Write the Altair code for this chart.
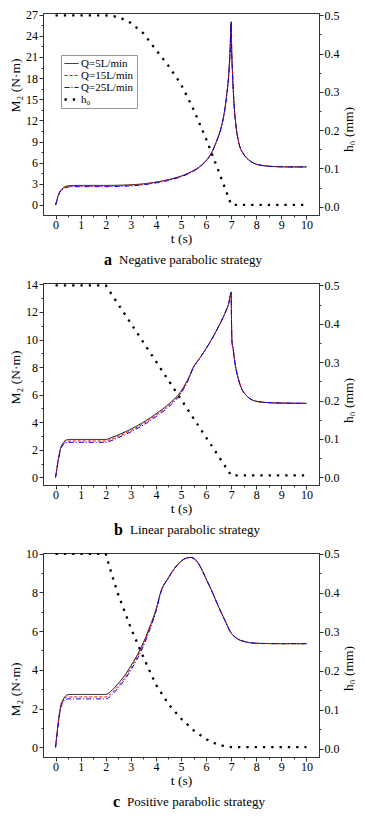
import altair as alt
import pandas as pd

FONT = "Liberation Serif"

SERIES = ["Q=5L/min", "Q=15L/min", "Q=25L/min", "h₀"]
COLORS = ["#000000", "#ff0000", "#0000ff", "#000000"]
DASHES = [[1, 0], [3, 2], [5, 2, 1, 2], [2.3, 6.0]]

X_TICKS = [0, 0.5, 1, 1.5, 2, 2.5, 3, 3.5, 4, 4.5, 5, 5.5, 6, 6.5, 7, 7.5, 8, 8.5, 9, 9.5, 10]
H_TICKS = [0, 0.05, 0.1, 0.15, 0.2, 0.25, 0.3, 0.35, 0.4, 0.45, 0.5]
YA_TICKS = [0, 1.5, 3, 4.5, 6, 7.5, 9, 10.5, 12, 13.5, 15, 16.5, 18, 19.5, 21, 22.5, 24, 25.5, 27]
YB_TICKS = [0, 1, 2, 3, 4, 5, 6, 7, 8, 9, 10, 11, 12, 13, 14]
YC_TICKS = [0, 1, 2, 3, 4, 5, 6, 7, 8, 9, 10]

# ---- panel a: negative parabolic strategy ----
TA = [0, 0.05, 0.1, 0.15, 0.2, 0.3, 0.4, 0.5, 0.7, 1.0, 1.5, 2.0, 2.5, 3.0, 3.5, 4.0, 4.5, 5.0, 5.5, 5.8,
      6.0, 6.2, 6.4, 6.6, 6.7, 6.8, 6.9, 6.95, 7.0, 7.02, 7.05, 7.1, 7.2, 7.3, 7.5, 7.7, 8.0, 8.5, 9.0, 9.5, 10.0]
A_Q5 = [0, 0.6, 1.3, 1.75, 2.05, 2.4, 2.62, 2.72, 2.77, 2.78, 2.78, 2.78, 2.8, 2.87, 3.0, 3.25, 3.6, 4.1, 4.9, 5.6,
        6.3, 7.3, 8.9, 11.0, 12.6, 15.0, 18.5, 21.5, 26.0, 22.0, 19.0, 15.2, 11.0, 8.9, 7.2, 6.4, 5.8, 5.5, 5.42, 5.4, 5.4]
A_Q15 = [0, 0.58, 1.25, 1.7, 2.0, 2.32, 2.52, 2.62, 2.67, 2.68, 2.68, 2.68, 2.71, 2.79, 2.93, 3.19, 3.54, 4.05, 4.85, 5.57,
         6.28, 7.28, 8.88, 10.98, 12.58, 14.95, 18.4, 21.3, 25.6, 21.8, 18.9, 15.1, 10.95, 8.88, 7.2, 6.4, 5.8, 5.5, 5.42, 5.4, 5.4]
A_Q25 = [0, 0.55, 1.2, 1.65, 1.95, 2.25, 2.45, 2.55, 2.6, 2.6, 2.6, 2.6, 2.63, 2.71, 2.86, 3.13, 3.49, 4.0, 4.8, 5.53,
         6.25, 7.25, 8.85, 10.95, 12.55, 14.9, 18.3, 21.2, 25.8, 21.9, 18.9, 15.1, 10.95, 8.88, 7.2, 6.4, 5.8, 5.5, 5.42, 5.4, 5.4]
HA_T = [0, 2.0, 2.5, 3.0, 3.5, 4.0, 4.5, 5.0, 5.5, 6.0, 6.5, 7.0, 10.0]
HA = [0.5, 0.5, 0.496, 0.48, 0.453, 0.41, 0.368, 0.32, 0.254, 0.177, 0.093, 0.005, 0.005]

# ---- panel b: linear parabolic strategy ----
TB = [0, 0.05, 0.1, 0.15, 0.2, 0.3, 0.4, 0.5, 0.7, 1.0, 1.5, 2.0, 2.25, 2.5, 3.0, 3.5, 4.0, 4.5, 5.0, 5.3,
      5.5, 5.75, 6.0, 6.25, 6.5, 6.75, 6.9, 7.0, 7.01, 7.03, 7.08, 7.15, 7.25, 7.4, 7.6, 7.8, 8.0, 8.5, 9.0, 10.0]
B_Q5 = [0, 0.6, 1.2, 1.7, 2.1, 2.5, 2.68, 2.74, 2.75, 2.75, 2.75, 2.75, 2.9, 3.08, 3.5, 4.0, 4.6, 5.3, 6.25, 7.2,
        8.0, 8.65, 9.35, 10.1, 10.95, 11.9, 12.6, 13.4, 11.8, 9.9, 9.3, 8.3, 7.4, 6.5, 5.95, 5.65, 5.52, 5.42, 5.39, 5.37]
B_Q15 = [0, 0.58, 1.15, 1.65, 2.05, 2.42, 2.58, 2.63, 2.64, 2.64, 2.64, 2.64, 2.78, 2.97, 3.4, 3.9, 4.5, 5.2, 6.17, 7.15,
         8.0, 8.65, 9.35, 10.1, 10.95, 11.9, 12.6, 13.3, 11.8, 9.9, 9.3, 8.3, 7.4, 6.5, 5.95, 5.65, 5.52, 5.42, 5.39, 5.37]
B_Q25 = [0, 0.55, 1.1, 1.6, 2.0, 2.35, 2.5, 2.54, 2.54, 2.54, 2.54, 2.54, 2.68, 2.88, 3.3, 3.8, 4.4, 5.1, 6.1, 7.1,
         8.0, 8.65, 9.35, 10.1, 10.95, 11.9, 12.6, 13.45, 11.8, 9.9, 9.3, 8.3, 7.4, 6.5, 5.95, 5.65, 5.52, 5.42, 5.39, 5.37]
HB_T = [0, 2.0, 7.0, 10.0]
HB = [0.5, 0.5, 0.005, 0.005]

# ---- panel c: positive parabolic strategy ----
TC = [0, 0.05, 0.1, 0.15, 0.2, 0.3, 0.4, 0.5, 0.7, 1.0, 1.5, 2.0, 2.25, 2.5, 2.75, 3.0, 3.25, 3.5, 3.75, 4.0,
      4.2, 4.5, 4.75, 5.0, 5.25, 5.4, 5.6, 5.8, 6.0, 6.25, 6.5, 6.75, 7.0, 7.25, 7.5, 8.0, 9.0, 10.0]
C_Q5 = [0, 0.6, 1.2, 1.7, 2.1, 2.45, 2.65, 2.72, 2.73, 2.73, 2.73, 2.73, 2.95, 3.3, 3.7, 4.2, 4.75, 5.4, 6.2, 7.1,
        8.05, 8.75, 9.25, 9.6, 9.78, 9.8, 9.65, 9.25, 8.7, 8.0, 7.25, 6.55, 5.9, 5.6, 5.47, 5.37, 5.35, 5.35]
C_Q15 = [0, 0.58, 1.15, 1.65, 2.05, 2.38, 2.55, 2.6, 2.6, 2.6, 2.6, 2.6, 2.82, 3.17, 3.58, 4.08, 4.65, 5.32, 6.13, 7.05,
         8.02, 8.75, 9.25, 9.6, 9.78, 9.8, 9.65, 9.25, 8.7, 8.0, 7.25, 6.55, 5.9, 5.6, 5.47, 5.37, 5.35, 5.35]
C_Q25 = [0, 0.55, 1.1, 1.6, 2.0, 2.3, 2.45, 2.5, 2.5, 2.5, 2.5, 2.5, 2.72, 3.07, 3.48, 3.98, 4.55, 5.22, 6.05, 7.0,
         8.0, 8.75, 9.25, 9.6, 9.78, 9.8, 9.65, 9.25, 8.7, 8.0, 7.25, 6.55, 5.9, 5.6, 5.47, 5.37, 5.35, 5.35]
HC_T = [0, 2.0, 2.25, 2.5, 3.0, 3.5, 4.0, 4.5, 5.0, 5.5, 6.0, 6.5, 7.0, 10.0]
HC = [0.5, 0.5, 0.445, 0.395, 0.31, 0.235, 0.165, 0.115, 0.078, 0.048, 0.025, 0.01, 0.005, 0.005]

LETTERS = ["a", "b", "c"]
CAPTIONS = ["Negative parabolic strategy", "Linear parabolic strategy", "Positive parabolic strategy"]

W = 276

LEG_DASH = ("datum.value === 'Q=15L/min' ? [3, 2] : (datum.value === 'Q=25L/min' ? [5, 2, 1, 2] : "
            "(datum.value === 'h₀' ? [2.3, 6] : [1, 0]))")
LEG_STROKE = ("datum.value === 'Q=15L/min' ? '#ff0000' : "
              "(datum.value === 'Q=25L/min' ? '#0000ff' : '#000000')")


def minor_size(test):
    return {"condition": {"test": test, "value": 2}, "value": 4}


def panel(t, q5, q15, q25, th, h, ydom, hdom, yticks, ymajor, legxy, letter, caption, capx, height,
          ytitle_y, htitle_y):
    rows = []
    for name, vals in zip(SERIES[:3], [q5, q15, q25]):
        for ti, v in zip(t, vals):
            rows.append({"t": ti, "M": v, "series": name})
    dm = pd.DataFrame(rows)
    dh = pd.DataFrame({"t": th, "h": h, "series": [SERIES[3]] * len(th)})

    leg = alt.Legend(title=None, orient="none", legendX=legxy[0], legendY=legxy[1],
                     symbolType="stroke", symbolSize=196, symbolOffset=2,
                     symbolStrokeWidth={"expr": "datum.value === 'h₀' ? 2.3 : 1"},
                     symbolDash={"expr": LEG_DASH},
                     symbolStrokeColor={"expr": LEG_STROKE},
                     labelFontSize=11, labelFont=FONT, labelColor="black",
                     padding=3, rowPadding=0, strokeColor="#999",
                     fillColor="white", labelOffset=4, cornerRadius=0)
    color = alt.Color("series:N", scale=alt.Scale(domain=SERIES, range=COLORS), legend=leg)
    dash = alt.StrokeDash("series:N", scale=alt.Scale(domain=SERIES, range=DASHES), legend=None)

    xaxis = alt.Axis(values=X_TICKS, title="t (s)", labelOverlap=False, labelFlush=False,
                     labelExpr="datum.value % 1 === 0 ? format(datum.value, 'd') : ''",
                     tickSize=minor_size("datum.value % 1 !== 0"), labelPadding=0, titlePadding=1)
    x = alt.X("t:Q", scale=alt.Scale(domain=[-0.5, 10.5], nice=False, zero=False), axis=xaxis)

    yaxis = alt.Axis(orient="left", values=yticks, title="M₂ (N·m)", labelOverlap=False, labelFlush=False,
                     labelExpr=f"datum.value % {ymajor} === 0 ? format(datum.value, 'd') : ''",
                     tickSize=minor_size(f"datum.value % {ymajor} !== 0"), labelPadding=1.5, titlePadding=3,
                     titleY=ytitle_y)
    haxis = alt.Axis(orient="right", values=H_TICKS, title="h₀ (mm)", labelOverlap=False, labelFlush=False,
                     labelExpr="round(datum.value * 100) % 10 === 0 ? format(datum.value, '.1f') : ''",
                     tickSize=minor_size("round(datum.value * 100) % 10 !== 0"),
                     labelPadding=1, titlePadding=2, titleAngle=270, titleBaseline="top",
                     titleY=htitle_y)

    lines = alt.Chart(dm).mark_line(clip=True, interpolate="monotone", strokeWidth=1).encode(
        x=x,
        y=alt.Y("M:Q", scale=alt.Scale(domain=ydom, nice=False, zero=False), axis=yaxis),
        color=color, strokeDash=dash,
    )
    hline = alt.Chart(dh).mark_line(clip=True, strokeWidth=2.3).encode(
        x=x,
        y=alt.Y("h:Q", scale=alt.Scale(domain=hdom, nice=False, zero=False), axis=haxis),
        color=color, strokeDash=dash,
    )
    cap = pd.DataFrame({"letter": [letter], "text": [caption]})
    let_mark = alt.Chart(cap).mark_text(align="right", baseline="middle", fontWeight="bold",
                                        fontSize=16, font=FONT, color="black").encode(
        x=alt.value(capx - 7), y=alt.value(height + 45), text="letter:N")
    txt_mark = alt.Chart(cap).mark_text(align="left", baseline="middle", fontSize=13,
                                        font=FONT, color="black").encode(
        x=alt.value(capx), y=alt.value(height + 45), text="text:N")
    return alt.layer(lines, hline, let_mark, txt_mark).resolve_scale(y="independent").properties(
        width=W, height=height)


pa = panel(TA, A_Q5, A_Q15, A_Q25, HA_T, HA, [-1.42, 27.24], [-0.0217, 0.506], YA_TICKS, 3,
           (18, 42), LETTERS[0], CAPTIONS[0], 76, 202, 72, 116)
pb = panel(TB, B_Q5, B_Q15, B_Q25, HB_T, HB, [-0.555, 14.1], [-0.02, 0.506], YB_TICKS, 2,
           (13, 64), LETTERS[1], CAPTIONS[1], 87, 202, 94, 117)
pc = panel(TC, C_Q5, C_Q15, C_Q25, HC_T, HC, [-0.5, 10.03], [-0.0205, 0.502], YC_TICKS, 2,
           (166, 104), LETTERS[2], CAPTIONS[2], 84, 204, 136, 115)

chart = alt.vconcat(pa, pb, pc, spacing=8).properties(padding=0).configure(font=FONT).configure_view(
    stroke="#333", strokeWidth=1
).configure_axis(
    labelFontSize=12, titleFontSize=13.5, labelColor="black", titleColor="black",
    domainColor="#333", tickColor="#333", grid=False, titleFontWeight="normal", labelFont=FONT, titleFont=FONT
)

chart.save("out.html", embed_options={"renderer": "svg", "actions": False})
